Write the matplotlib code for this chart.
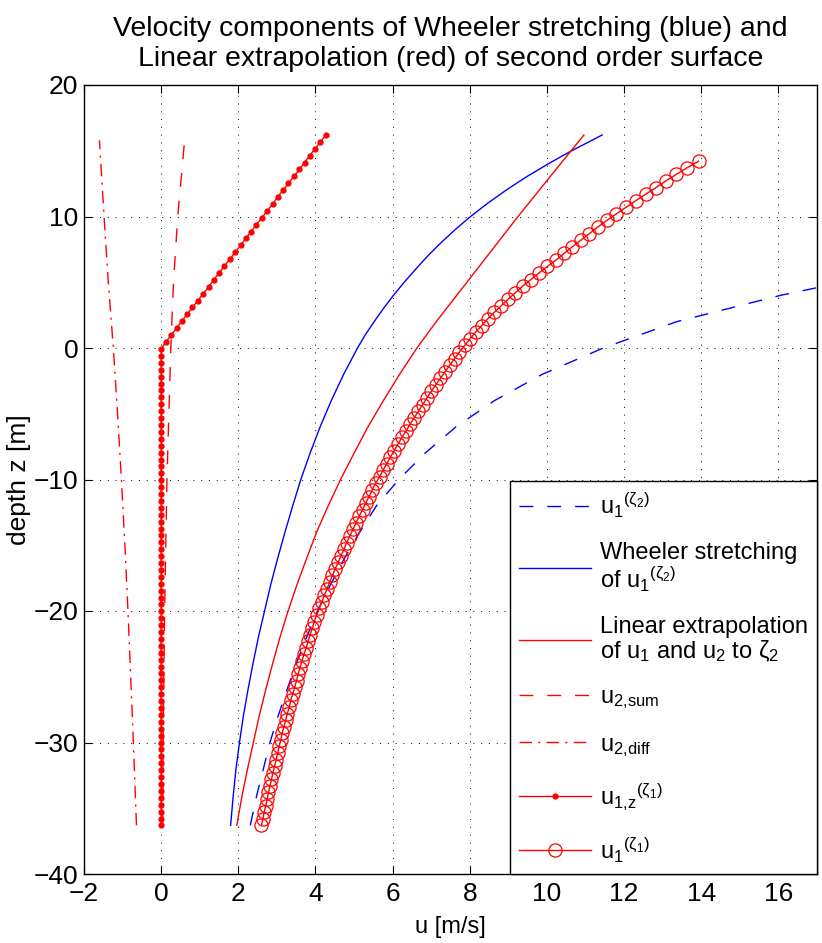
import matplotlib
matplotlib.use('Agg')
import matplotlib.pyplot as plt

plt.rcParams['font.family'] = ['Liberation Sans', 'DejaVu Sans']
plt.rcParams['mathtext.fontset'] = 'custom'
plt.rcParams['mathtext.rm'] = 'Liberation Sans'
plt.rcParams['mathtext.it'] = 'Liberation Sans:italic'
plt.rcParams['mathtext.bf'] = 'Liberation Sans:bold'
plt.rcParams['font.size'] = 17

# u1^(zeta2), blue dashed
z_u1_z2 = [-36.3, -34, -32, -30, -28, -26, -24, -22, -20, -18, -16, -14, -12,
           -10, -8, -6, -4, -2, 0, 2, 4, 5]
u1_z2 = [2.31, 2.48, 2.65, 2.82, 3.03, 3.26, 3.50, 3.77, 4.05, 4.39, 4.75, 5.15,
         5.58, 6.16, 6.84, 7.64, 8.64, 9.88, 11.46, 13.36, 16.05, 17.67]

# Wheeler stretching, blue solid
z_wheeler = [-36.3, -34, -32, -30, -28, -26, -24, -22, -20, -18, -16, -14, -12,
             -10, -8, -6, -4, -2, 0, 1, 2, 3, 4, 5, 6, 7, 8, 9, 10, 11, 12, 13,
             14, 15, 16, 16.2]
u_wheeler = [1.80, 1.87, 1.94, 2.03, 2.13, 2.25, 2.38, 2.52, 2.68, 2.84, 3.02,
             3.21, 3.41, 3.62, 3.86, 4.12, 4.41, 4.73, 5.09, 5.29, 5.52, 5.76,
             6.02, 6.30, 6.60, 6.91, 7.25, 7.62, 8.02, 8.46, 8.94, 9.46, 10.03,
             10.64, 11.30, 11.43]

# linear extrapolation, red solid
z_lin = [-36.3, -34, -32, -30, -28, -26, -24, -22, -20, -18, -16, -14, -12,
         -10, -8, -6, -4, -2, 0, 1, 2, 4, 6, 8, 10, 12, 14, 16.2]
u_lin = [1.96, 2.10, 2.24, 2.39, 2.54, 2.71, 2.89, 3.08, 3.29, 3.52, 3.77, 4.03,
         4.33, 4.65, 5.00, 5.36, 5.76, 6.18, 6.63, 6.88, 7.13, 7.66, 8.19, 8.72,
         9.25, 9.80, 10.35, 10.96]

# u2,sum, red dashed
z_u2_sum = [-36.3, -30, -25, -20, -15, -10, -5, 0, 5, 10, 16.2]
u2_sum = [0.04, 0.05, 0.07, 0.09, 0.12, 0.15, 0.20, 0.25, 0.32, 0.43, 0.62]

# u2,diff, red dash-dot
z_u2_diff = [-36.3, -30, -25, -20, -15, -10, -5, 0, 5, 10, 15.8]
u2_diff = [-0.64, -0.72, -0.79, -0.86, -0.94, -1.03, -1.13, -1.24, -1.37, -1.48, -1.60]

# u1,z^(zeta1), red line with dots
z_u1z = [-36.30, -35.78, -35.25, -34.73, -34.20, -33.68, -33.15, -32.63, -32.10, -31.58,
         -31.05, -30.53, -30.00, -29.48, -28.95, -28.43, -27.90, -27.38, -26.85, -26.33,
         -25.80, -25.28, -24.75, -24.23, -23.70, -23.18, -22.65, -22.13, -21.60, -21.08,
         -20.55, -20.03, -19.50, -18.98, -18.45, -17.93, -17.40, -16.88, -16.35, -15.83,
         -15.30, -14.78, -14.25, -13.73, -13.20, -12.68, -12.15, -11.63, -11.10, -10.58,
         -10.05, -9.53, -9.00, -8.48, -7.95, -7.43, -6.90, -6.38, -5.85, -5.33,
         -4.80, -4.28, -3.75, -3.23, -2.70, -2.18, -1.65, -1.13, -0.60, -0.08,
         0.45, 0.98, 1.50, 2.03, 2.55, 3.08, 3.60, 4.13, 4.65, 5.18,
         5.70, 6.23, 6.75, 7.28, 7.80, 8.33, 8.85, 9.38, 9.90, 10.43,
         10.95, 11.48, 12.00, 12.53, 13.05, 13.58, 14.10, 14.63, 15.15, 15.68,
         16.20]
u1z = [0.00, 0.00, 0.00, 0.00, 0.00, 0.00, 0.00, 0.00, 0.00, 0.00,
       0.00, 0.00, 0.00, 0.00, 0.00, 0.00, 0.00, 0.00, 0.00, 0.00,
       0.00, 0.00, 0.00, 0.00, 0.00, 0.00, 0.00, 0.00, 0.00, 0.00,
       0.00, 0.00, 0.00, 0.00, 0.00, 0.00, 0.00, 0.00, 0.00, 0.00,
       0.00, 0.00, 0.00, 0.00, 0.00, 0.00, 0.00, 0.00, 0.00, 0.00,
       0.00, 0.00, 0.00, 0.00, 0.00, 0.00, 0.00, 0.00, 0.00, 0.00,
       0.00, 0.00, 0.00, 0.00, 0.00, 0.00, 0.00, 0.00, 0.00, 0.00,
       0.12, 0.26, 0.40, 0.53, 0.67, 0.81, 0.95, 1.09, 1.23, 1.36,
       1.50, 1.64, 1.78, 1.92, 2.06, 2.19, 2.33, 2.47, 2.61, 2.75,
       2.89, 3.02, 3.16, 3.30, 3.44, 3.58, 3.72, 3.85, 3.99, 4.13,
       4.27]

# u1^(zeta1), red line with circles
z_u1_z1 = [-36.3, -35.8, -35.3, -34.8, -34.3, -33.8, -33.3, -32.8, -32.3, -31.8,
           -31.3, -30.8, -30.3, -29.8, -29.3, -28.8, -28.3, -27.8, -27.3, -26.8,
           -26.3, -25.8, -25.3, -24.8, -24.3, -23.8, -23.3, -22.8, -22.3, -21.8,
           -21.3, -20.8, -20.3, -19.8, -19.3, -18.8, -18.3, -17.8, -17.3, -16.8,
           -16.3, -15.8, -15.3, -14.8, -14.3, -13.8, -13.3, -12.8, -12.3, -11.8,
           -11.3, -10.8, -10.3, -9.8, -9.3, -8.8, -8.3, -7.8, -7.3, -6.8,
           -6.3, -5.8, -5.3, -4.8, -4.3, -3.8, -3.3, -2.8, -2.3, -1.8,
           -1.3, -0.8, -0.3, 0.2, 0.7, 1.2, 1.7, 2.2, 2.7, 3.2,
           3.7, 4.2, 4.7, 5.2, 5.7, 6.2, 6.7, 7.2, 7.7, 8.2,
           8.7, 9.2, 9.7, 10.2, 10.7, 11.2, 11.7, 12.2, 12.7, 13.2,
           13.7, 14.2]
u1_z1 = [2.60, 2.64, 2.67, 2.71, 2.75, 2.78, 2.82, 2.86, 2.90, 2.94,
         2.98, 3.02, 3.06, 3.10, 3.14, 3.18, 3.23, 3.27, 3.32, 3.36,
         3.41, 3.46, 3.51, 3.55, 3.60, 3.65, 3.70, 3.76, 3.81, 3.86,
         3.92, 3.97, 4.03, 4.10, 4.17, 4.23, 4.30, 4.37, 4.44, 4.51,
         4.59, 4.66, 4.74, 4.81, 4.89, 4.97, 5.05, 5.13, 5.22, 5.30,
         5.39, 5.47, 5.56, 5.66, 5.75, 5.85, 5.94, 6.04, 6.14, 6.24,
         6.35, 6.45, 6.56, 6.67, 6.78, 6.89, 7.00, 7.12, 7.24, 7.36,
         7.48, 7.61, 7.73, 7.87, 8.01, 8.15, 8.31, 8.46, 8.63, 8.81,
         8.99, 9.18, 9.37, 9.58, 9.79, 10.01, 10.24, 10.45, 10.66, 10.88,
         11.10, 11.32, 11.55, 11.80, 12.05, 12.30, 12.56, 12.83, 13.08, 13.35,
         13.63, 13.93]

labels = [r'$\mathrm{u}_1{}^{(\mathrm{ζ}_2)}$',
          'Wheeler stretching\nof ' + r'$\mathrm{u}_1{}^{(\mathrm{ζ}_2)}$',
          'Linear extrapolation\nof u$_1$ and u$_2$ to ζ$_2$',
          r'$\mathrm{u}_{\text{2,sum}}$',
          r'$\mathrm{u}_{\text{2,diff}}$',
          r'$\mathrm{u}_{\text{1,z}}{}^{(\mathrm{ζ}_1)}$',
          r'$\mathrm{u}_1{}^{(\mathrm{ζ}_1)}$']
xticks = [-2, 0, 2, 4, 6, 8, 10, 12, 14, 16]
yticks = [-40, -30, -20, -10, 0, 10, 20]

fig = plt.figure(figsize=(8.22, 9.43), dpi=100)
ax = fig.add_axes([84 / 822, 69 / 943, 733 / 822, 789 / 943])

red = '#ff0000'
blue = '#0000ff'
ax.plot(u1_z2, z_u1_z2, color=blue, lw=1, dashes=(10, 10), label=labels[0])
ax.plot(u_wheeler, z_wheeler, color=blue, lw=1, label=labels[1])
ax.plot(u_lin, z_lin, color=red, lw=1, label=labels[2])
ax.plot(u2_sum, z_u2_sum, color=red, lw=1, dashes=(10, 10), label=labels[3])
ax.plot(u2_diff, z_u2_diff, color=red, lw=1, dashes=(9, 4.5, 1.5, 4.5), label=labels[4])
ax.plot(u1z, z_u1z, color=red, lw=1, marker='o', ms=3.5, mfc=red, mec=red,
        label=labels[5])
ax.plot(u1_z1, z_u1_z1, color=red, lw=1, marker='o', ms=9.5, mfc='none', mec=red,
        mew=0.9, label=labels[6])

ax.set_xlim(-2, 17)
ax.set_ylim(-40, 20)
ax.set_xticks(xticks)
ax.set_yticks(yticks)
ax.grid(True, color='k', linestyle=(0, (1, 7)), linewidth=0.7)
ax.tick_params(direction='in', top=True, right=True, length=6, width=0.8,
               labelsize=19)
ax.tick_params(axis='x', pad=6)
ax.tick_params(axis='y', pad=4)
for s in ax.spines.values():
    s.set_linewidth(1.0)

ax.set_xlabel('u [m/s]', fontsize=17, labelpad=7)
ax.set_ylabel('depth z [m]', fontsize=19, labelpad=2)
ax.set_title('Velocity components of Wheeler stretching (blue) and\n'
             'Linear extrapolation (red) of second order surface',
             fontsize=20.5, pad=14, linespacing=1.2)

leg = ax.legend(loc='lower right', bbox_to_anchor=(1.0, 0.0), borderaxespad=0,
                fancybox=False, edgecolor='k', framealpha=1, handlelength=3.05,
                handletextpad=0.35, borderpad=0.4, labelspacing=0.95, numpoints=1,
                fontsize=17)
leg.get_frame().set_linewidth(1.0)
for t in leg.get_texts():
    t.set_linespacing(1.0)

fig.savefig('out.png', dpi=100)
